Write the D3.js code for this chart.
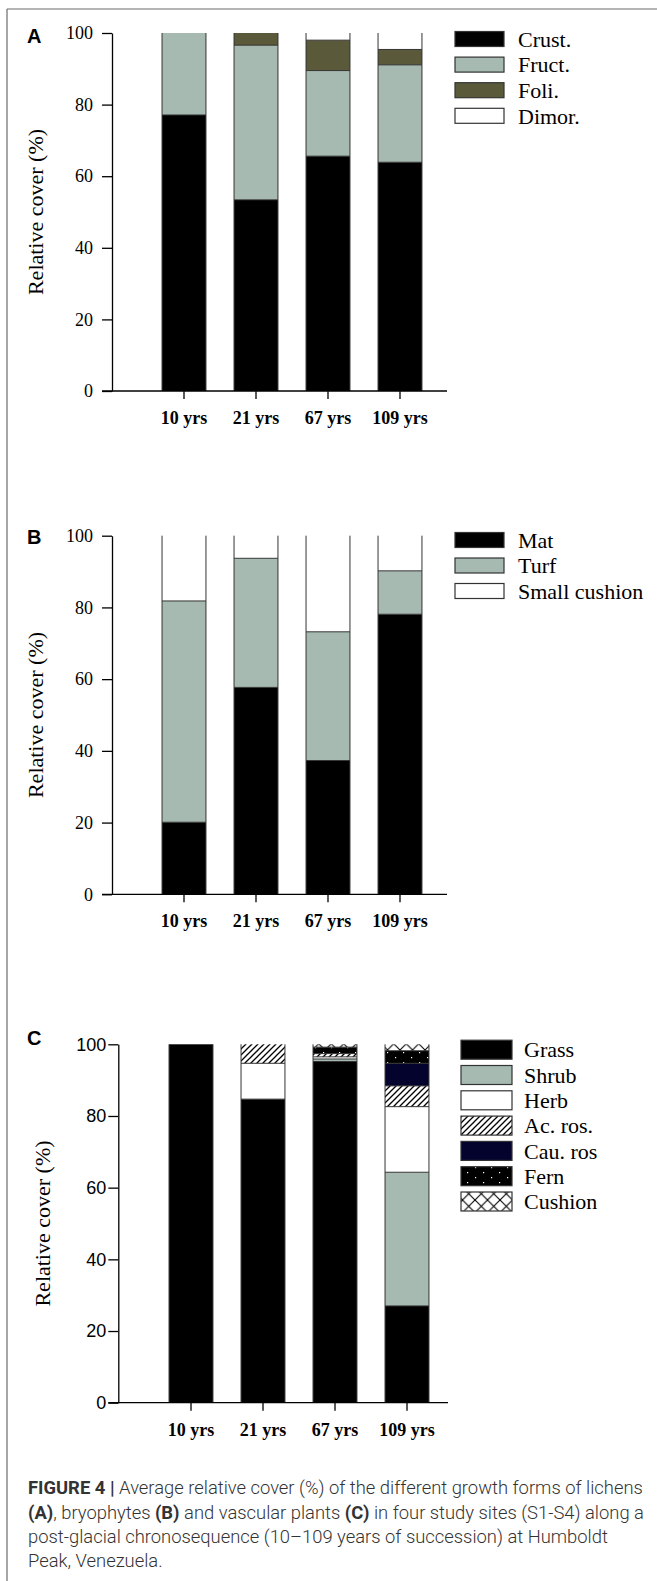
<!DOCTYPE html>
<html><head><meta charset="utf-8">
<script src="https://cdn.jsdelivr.net/npm/d3@7/dist/d3.min.js"></script>
<style>body{margin:0;background:#fff}svg{display:block}</style>
</head><body>
<svg id="fig" width="657" height="1581"></svg>
<script>
// ---------- data ----------
const categories = ["10 yrs", "21 yrs", "67 yrs", "109 yrs"];
const yTicks = [0, 20, 40, 60, 80, 100];

// Panel A: lichens
const lichenNames = ["Crust.", "Fruct.", "Foli.", "Dimor."];
const lichenCrust = [77.1, 53.4, 65.6, 63.9];
const lichenFruct = [22.9, 43.2, 23.9, 27.2];
const lichenFoli  = [0.0, 3.4, 8.5, 4.3];
const lichenDimor = [0.0, 0.0, 2.0, 4.6];

// Panel B: bryophytes
const bryoNames = ["Mat", "Turf", "Small cushion"];
const bryoMat   = [20.1, 57.7, 37.3, 78.1];
const bryoTurf  = [61.7, 36.0, 35.9, 12.1];
const bryoSmall = [18.2, 6.3, 26.8, 9.8];

// Panel C: vascular plants
const vascNames = ["Grass", "Shrub", "Herb", "Ac. ros.", "Cau. ros", "Fern", "Cushion"];
const vascGrass   = [100.0, 84.7, 95.2, 27.0];
const vascShrub   = [0.0, 0.0, 0.7, 37.3];
const vascHerb    = [0.0, 10.0, 0.6, 18.3];
const vascAcRos   = [0.0, 5.3, 0.9, 5.8];
const vascCauRos  = [0.0, 0.0, 0.0, 6.3];
const vascFern    = [0.0, 0.0, 1.8, 3.5];
const vascCushion = [0.0, 0.0, 0.8, 1.8];

const captionLines = [
  [["FIGURE 4 | ", true], ["Average relative cover (%) of the different growth forms of lichens", false]],
  [["(A)", true], [", bryophytes ", false], ["(B)", true], [" and vascular plants ", false], ["(C)", true], [" in four study sites (S1-S4) along a", false]],
  [["post-glacial chronosequence (10\u2013109 years of succession) at Humboldt", false]],
  [["Peak, Venezuela.", false]]
];

// ---------- drawing ----------
const svg = d3.select("#fig");
const defs = svg.append("defs");

// hatch pattern (Ac. ros.)
const ph = defs.append("pattern").attr("id", "hatch").attr("patternUnits", "userSpaceOnUse")
  .attr("width", 6).attr("height", 6);
ph.append("rect").attr("width", 6).attr("height", 6).attr("fill", "#fff");
ph.append("path").attr("d", "M-1,1 L1,-1 M0,6 L6,0 M5,7 L7,5")
  .attr("stroke", "#000").attr("stroke-width", 1.3);

// dots pattern (Fern)
const pd = defs.append("pattern").attr("id", "dots").attr("patternUnits", "userSpaceOnUse")
  .attr("width", 16).attr("height", 10);
pd.append("rect").attr("width", 16).attr("height", 10).attr("fill", "#000");
pd.append("rect").attr("x", 3).attr("y", 2).attr("width", 1.2).attr("height", 1.2).attr("fill", "#fff");
pd.append("rect").attr("x", 11).attr("y", 7).attr("width", 1.2).attr("height", 1.2).attr("fill", "#fff");

// cross pattern (Cushion)
const pc = defs.append("pattern").attr("id", "cross").attr("patternUnits", "userSpaceOnUse")
  .attr("width", 12.5).attr("height", 12.5);
pc.append("rect").attr("width", 12.5).attr("height", 12.5).attr("fill", "#fff");
pc.append("path").attr("d", "M0,0 L12.5,12.5 M12.5,0 L0,12.5")
  .attr("stroke", "#000").attr("stroke-width", 1.1);

// frame
svg.append("line").attr("x1", 7).attr("y1", 9).attr("x2", 657).attr("y2", 9)
  .attr("stroke", "#6b6b6b").attr("stroke-width", 1.2);
svg.append("line").attr("x1", 7).attr("y1", 9).attr("x2", 7).attr("y2", 1581)
  .attr("stroke", "#6b6b6b").attr("stroke-width", 1.2);

function drawPanel(cfg) {
  const g = svg.append("g");
  const keys = cfg.names;
  const rows = categories.map((c, i) => {
    const r = {cat: c};
    keys.forEach((k, j) => r[k] = cfg.values[j][i]);
    return r;
  });
  const stack = d3.stack().keys(keys)(rows);
  const y = d3.scaleLinear().domain([0, 100]).range([cfg.y0, cfg.y100]);
  const x = d3.scaleBand().domain(categories).range(cfg.xRange).paddingInner(0.39).paddingOuter(0.195);
  const fill = d => cfg.fills[keys.indexOf(d)];

  // segments
  stack.forEach((s, j) => {
    g.append("g").selectAll("rect").data(s).join("rect")
      .attr("x", d => x(d.data.cat))
      .attr("width", x.bandwidth())
      .attr("y", d => y(d[1]))
      .attr("height", d => Math.max(0, y(d[0]) - y(d[1])))
      .attr("fill", cfg.fills[j]);
  });
  // outlines: sides + internal boundaries
  const ol = g.append("g").attr("stroke", "#333").attr("stroke-width", 1).attr("fill", "none");
  categories.forEach((c, i) => {
    const top = d3.sum(cfg.values, v => v[i]);
    const xl = x(c), xr = x(c) + x.bandwidth();
    ol.append("line").attr("x1", xl).attr("x2", xl).attr("y1", y(0)).attr("y2", y(top));
    ol.append("line").attr("x1", xr).attr("x2", xr).attr("y1", y(0)).attr("y2", y(top));
    stack.forEach(s => {
      const d = s[i];
      if (d[1] - d[0] > 0 && d[1] < top - 0.05) {
        ol.append("line").attr("x1", xl).attr("x2", xr).attr("y1", y(d[1])).attr("y2", y(d[1]));
      }
    });
  });

  // y axis
  const ya = g.append("g").attr("transform", `translate(${cfg.axisX},0)`)
    .call(d3.axisLeft(y).tickValues(yTicks).tickSize(10).tickSizeOuter(0).tickPadding(cfg.tickPad));
  ya.selectAll("path,line").attr("stroke", "#000").attr("stroke-width", 1.3);
  ya.selectAll("text").attr("font-family", cfg.tickFont).attr("font-size", cfg.tickSize)
    .attr("fill", "#000");

  // x axis
  g.append("line").attr("x1", cfg.axisX - 10).attr("x2", cfg.xAxisEnd)
    .attr("y1", y(0)).attr("y2", y(0)).attr("stroke", "#000").attr("stroke-width", 1.3);
  const xa = g.append("g").attr("transform", `translate(0,${y(0)})`)
    .call(d3.axisBottom(x).tickSize(8).tickSizeOuter(0));
  xa.select(".domain").remove();
  xa.selectAll("line").attr("stroke", "#000").attr("stroke-width", 1.3);
  xa.selectAll("text").attr("y", 33).attr("dy", null)
    .attr("font-family", "'Liberation Serif', 'Times New Roman', serif")
    .attr("font-weight", "bold").attr("font-size", 18).attr("fill", "#000");

  // y label
  g.append("text")
    .attr("transform", `translate(${cfg.labelX},${(y(0) + y(100)) / 2}) rotate(-90)`)
    .attr("text-anchor", "middle").attr("dy", "0.35em")
    .attr("font-family", "'Liberation Serif', 'Times New Roman', serif").attr("font-size", 22)
    .text("Relative cover (%)");

  // panel letter
  g.append("text").attr("x", 27).attr("y", cfg.letterY)
    .attr("font-family", "'Liberation Sans', Arial, sans-serif").attr("font-weight", "bold")
    .attr("font-size", 20).text(cfg.letter);

  // legend
  const lg = g.append("g");
  keys.forEach((k, j) => {
    const cy = cfg.legY0 + j * cfg.legStep;
    lg.append("rect").attr("x", cfg.legX).attr("y", cy - cfg.legH / 2)
      .attr("width", cfg.legW).attr("height", cfg.legH)
      .attr("fill", cfg.fills[j]).attr("stroke", "#333").attr("stroke-width", 1.2);
    lg.append("text").attr("x", cfg.legTextX).attr("y", cy).attr("dy", "0.35em")
      .attr("font-family", "'Liberation Serif', 'Times New Roman', serif").attr("font-size", 22)
      .text(k);
  });
}

const serif = "'Liberation Serif', 'Times New Roman', serif";
const sans = "'Liberation Sans', Arial, sans-serif";

drawPanel({
  names: lichenNames,
  values: [lichenCrust, lichenFruct, lichenFoli, lichenDimor],
  fills: ["#000", "#a6bab1", "#5a5a3b", "#fff"],
  y0: 391, y100: 33, xRange: [148, 436], axisX: 112, xAxisEnd: 447,
  tickFont: serif, tickSize: 18, tickPad: 9, labelX: 35, letter: "A", letterY: 43,
  legX: 455, legW: 49, legH: 15, legY0: 39, legStep: 25.6, legTextX: 518
});

drawPanel({
  names: bryoNames,
  values: [bryoMat, bryoTurf, bryoSmall],
  fills: ["#000", "#a6bab1", "#fff"],
  y0: 894.3, y100: 535.7, xRange: [148, 436], axisX: 112, xAxisEnd: 447,
  tickFont: serif, tickSize: 18, tickPad: 9, labelX: 35, letter: "B", letterY: 544,
  legX: 455, legW: 49, legH: 15, legY0: 540, legStep: 25.5, legTextX: 518
});

drawPanel({
  names: vascNames,
  values: [vascGrass, vascShrub, vascHerb, vascAcRos, vascCauRos, vascFern, vascCushion],
  fills: ["#000", "#a6bab1", "#fff", "url(#hatch)", "#03032e", "url(#dots)", "url(#cross)"],
  y0: 1402.7, y100: 1044.3, xRange: [155, 443], axisX: 118.3, xAxisEnd: 448,
  tickFont: sans, tickSize: 18, tickPad: 2, labelX: 42, letter: "C", letterY: 1045,
  legX: 461, legW: 51, legH: 19, legY0: 1049.7, legStep: 25.3, legTextX: 524
});

// caption
const cap = svg.append("g").attr("font-family", "Roboto, 'Liberation Sans', Arial, sans-serif")
  .attr("font-size", 18).attr("fill", "#333");
const capBase = [1494.5, 1519, 1543, 1567];
const texts = captionLines.map((parts, i) => {
  const t = cap.append("text").attr("x", 0).attr("y", capBase[i]);
  parts.forEach(([s, b]) => t.append("tspan").attr("font-weight", b ? 700 : 300).text(s));
  return t;
});
const w1 = texts[0].node().getComputedTextLength();
const sx = (643 - 28) / w1;
cap.attr("transform", `translate(28,0) scale(${sx},1)`);
</script>
</body></html>
